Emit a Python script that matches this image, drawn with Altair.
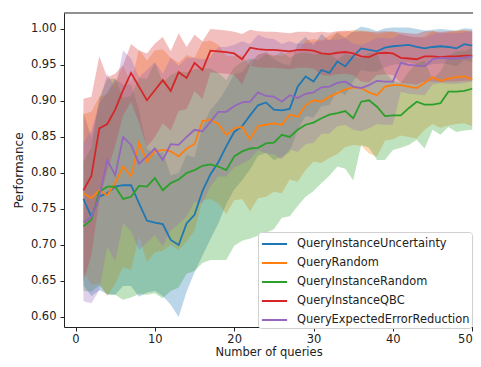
import altair as alt
import pandas as pd

queries = list(range(1, 51))

series_names = [
    "QueryInstanceUncertainty",
    "QueryRandom",
    "QueryInstanceRandom",
    "QueryInstanceQBC",
    "QueryExpectedErrorReduction",
]
series_colors = ["#1f77b4", "#ff7f0e", "#2ca02c", "#d62728", "#9467bd"]

uncertainty_mean = [0.764, 0.739, 0.767, 0.772, 0.781, 0.783, 0.783, 0.758, 0.734, 0.731,
                    0.729, 0.707, 0.700, 0.730, 0.742, 0.775, 0.798, 0.815, 0.837, 0.857,
                    0.865, 0.880, 0.894, 0.898, 0.888, 0.887, 0.889, 0.920, 0.934, 0.927,
                    0.943, 0.939, 0.955, 0.948, 0.962, 0.973, 0.971, 0.969, 0.974, 0.976,
                    0.977, 0.978, 0.975, 0.973, 0.975, 0.976, 0.975, 0.973, 0.979, 0.977]
uncertainty_std = [0.12, 0.11, 0.13, 0.14, 0.15, 0.14, 0.14, 0.13, 0.10, 0.095,
                   0.10, 0.09, 0.10, 0.095, 0.08, 0.09, 0.09, 0.085, 0.08, 0.08,
                   0.075, 0.075, 0.07, 0.07, 0.07, 0.065, 0.06, 0.06, 0.055, 0.05,
                   0.05, 0.045, 0.04, 0.04, 0.035, 0.03, 0.03, 0.028, 0.027, 0.026,
                   0.025, 0.024, 0.025, 0.025, 0.024, 0.024, 0.024, 0.025, 0.022, 0.023]

random_mean = [0.772, 0.765, 0.776, 0.769, 0.786, 0.809, 0.795, 0.842, 0.816, 0.830,
               0.832, 0.830, 0.823, 0.834, 0.840, 0.872, 0.874, 0.868, 0.853, 0.862,
               0.864, 0.847, 0.865, 0.867, 0.869, 0.867, 0.881, 0.878, 0.894, 0.901,
               0.899, 0.906, 0.911, 0.916, 0.919, 0.918, 0.912, 0.908, 0.920, 0.922,
               0.922, 0.920, 0.918, 0.925, 0.933, 0.928, 0.931, 0.933, 0.934, 0.930]
random_std = [0.11, 0.12, 0.13, 0.14, 0.14, 0.14, 0.13, 0.13, 0.14, 0.14,
              0.14, 0.13, 0.13, 0.13, 0.12, 0.11, 0.11, 0.11, 0.11, 0.10,
              0.10, 0.10, 0.10, 0.10, 0.095, 0.095, 0.09, 0.09, 0.09, 0.085,
              0.085, 0.085, 0.085, 0.08, 0.08, 0.08, 0.085, 0.085, 0.075, 0.075,
              0.07, 0.07, 0.07, 0.065, 0.065, 0.065, 0.065, 0.065, 0.065, 0.065]

inst_random_mean = [0.726, 0.735, 0.774, 0.781, 0.781, 0.764, 0.767, 0.782, 0.781, 0.793,
                    0.776, 0.786, 0.791, 0.800, 0.804, 0.810, 0.812, 0.809, 0.804, 0.823,
                    0.830, 0.834, 0.835, 0.841, 0.842, 0.853, 0.850, 0.860, 0.867, 0.870,
                    0.876, 0.881, 0.883, 0.886, 0.876, 0.899, 0.901, 0.892, 0.879, 0.880,
                    0.880, 0.890, 0.899, 0.895, 0.895, 0.897, 0.913, 0.913, 0.914, 0.917]
inst_random_std = [0.09, 0.10, 0.13, 0.15, 0.15, 0.14, 0.14, 0.15, 0.15, 0.16,
                   0.15, 0.15, 0.15, 0.14, 0.14, 0.135, 0.133, 0.13, 0.125, 0.124,
                   0.124, 0.125, 0.122, 0.124, 0.12, 0.115, 0.11, 0.106, 0.10, 0.095,
                   0.09, 0.085, 0.074, 0.08, 0.086, 0.06, 0.066, 0.074, 0.061, 0.048,
                   0.045, 0.051, 0.053, 0.061, 0.035, 0.044, 0.049, 0.056, 0.055, 0.057]

qbc_mean = [0.776, 0.796, 0.862, 0.868, 0.888, 0.915, 0.939, 0.920, 0.901, 0.915,
            0.929, 0.914, 0.940, 0.932, 0.953, 0.943, 0.970, 0.969, 0.968, 0.966,
            0.958, 0.974, 0.972, 0.971, 0.971, 0.970, 0.969, 0.971, 0.971, 0.970,
            0.966, 0.965, 0.967, 0.968, 0.966, 0.962, 0.961, 0.966, 0.967, 0.966,
            0.960, 0.959, 0.958, 0.962, 0.962, 0.961, 0.962, 0.962, 0.963, 0.963]
qbc_std = [0.127, 0.11, 0.10, 0.065, 0.05, 0.035, 0.04, 0.05, 0.065, 0.065,
           0.06, 0.055, 0.054, 0.043, 0.039, 0.04, 0.03, 0.03, 0.03, 0.03,
           0.035, 0.025, 0.025, 0.025, 0.025, 0.025, 0.025, 0.025, 0.025, 0.025,
           0.03, 0.03, 0.03, 0.03, 0.03, 0.035, 0.035, 0.03, 0.03, 0.03,
           0.035, 0.035, 0.035, 0.035, 0.035, 0.035, 0.035, 0.035, 0.035, 0.035]

eer_mean = [0.732, 0.739, 0.767, 0.818, 0.797, 0.850, 0.839, 0.813, 0.823, 0.834,
            0.818, 0.840, 0.839, 0.850, 0.860, 0.858, 0.871, 0.885, 0.885, 0.893,
            0.898, 0.899, 0.912, 0.907, 0.906, 0.899, 0.908, 0.904, 0.910, 0.912,
            0.919, 0.920, 0.925, 0.927, 0.920, 0.918, 0.922, 0.928, 0.927, 0.927,
            0.953, 0.950, 0.949, 0.948, 0.958, 0.960, 0.959, 0.959, 0.960, 0.962]
eer_std = [0.11, 0.12, 0.13, 0.12, 0.12, 0.12, 0.12, 0.12, 0.12, 0.12,
           0.12, 0.12, 0.11, 0.11, 0.10, 0.10, 0.09, 0.09, 0.09, 0.085,
           0.085, 0.08, 0.08, 0.08, 0.08, 0.08, 0.075, 0.075, 0.07, 0.07,
           0.065, 0.065, 0.06, 0.06, 0.06, 0.06, 0.06, 0.06, 0.06, 0.06,
           0.04, 0.04, 0.04, 0.04, 0.035, 0.035, 0.035, 0.035, 0.035, 0.035]

means = [uncertainty_mean, random_mean, inst_random_mean, qbc_mean, eer_mean]
stds = [uncertainty_std, random_std, inst_random_std, qbc_std, eer_std]

rows = []
for k, (name, m, s) in enumerate(zip(series_names, means, stds)):
    for n, mv, sv in zip(queries, m, s):
        rows.append({"n": n, "series": name, "order": k,
                     "mean": mv, "lo": mv - sv, "hi": mv + sv})
df = pd.DataFrame(rows)

font = "DejaVu Sans"
PLOT_W = 409
PLOT_H = 314
x_scale = alt.Scale(domain=[-1.45, 50.1], nice=False, zero=False)
x_axis = alt.Axis(values=[0, 10, 20, 30, 40, 50], title="Number of queries", format="d")
y_scale = alt.Scale(domain=[0.5861, 1.0222], nice=False, zero=False)
y_axis = alt.Axis(values=[0.60, 0.65, 0.70, 0.75, 0.80, 0.85, 0.90, 0.95, 1.00],
                  format=".2f", title="Performance")

base = alt.Chart(df)

# shaded std bands, one layer per method (drawn in plotting order)
area_layers = []
for name, col in zip(series_names, series_colors):
    area_layers.append(
        base.transform_filter(alt.datum.series == name)
        .mark_area(color=col, fillOpacity=0.3, clip=True)
        .encode(
            x=alt.X("n:Q", scale=x_scale, axis=x_axis),
            y=alt.Y("lo:Q", scale=y_scale, axis=y_axis),
            y2="hi:Q",
        )
    )

lines = base.mark_line(strokeWidth=1.8, clip=True).encode(
    x=alt.X("n:Q", scale=x_scale, axis=x_axis),
    y=alt.Y("mean:Q", scale=y_scale, axis=y_axis),
    stroke=alt.Stroke(
        "series:N",
        scale=alt.Scale(domain=series_names, range=series_colors),
        legend=alt.Legend(
            title=None, orient="none", legendX=194, legendY=219,
            symbolType="M-0.9,0L1.9,0", symbolSize=324, symbolStrokeWidth=2,
            rowPadding=3, labelFontSize=11.4, labelFont=font, labelColor="#222",
            labelOffset=17, fillColor="white", strokeColor="#d0d0d0",
            padding=2, cornerRadius=3, labelLimit=400,
        ),
    ),
    order=alt.Order("order:Q"),
)

# top spine (matplotlib style frame; right edge lies beyond the picture)
top_spine = alt.Chart(pd.DataFrame({"k": [0]})).mark_rule(
    color="#222", strokeWidth=1
).encode(y=alt.value(0), x=alt.value(0), x2=alt.value(PLOT_W + 2))

chart = alt.layer(*area_layers, lines, top_spine).properties(
    width=PLOT_W, height=PLOT_H,
    autosize=alt.AutoSizeParams(type="none"),
    padding={"left": 56, "top": 5, "right": 0, "bottom": 32},
).configure_view(
    stroke=None
).configure_axis(
    grid=False, domain=True, domainColor="#222", tickColor="#222", tickSize=4,
    tickWidth=1, labelFont=font, labelFontSize=11.5, labelColor="#222",
    titleFont=font, titleFontSize=12, titleFontWeight="normal", titleColor="#222",
).configure_axisX(
    labelPadding=2, titlePadding=2, titleFontSize=11.5,
).configure_axisY(
    labelPadding=4, titlePadding=5,
)

chart.save("out.html", embed_options={"renderer": "svg", "actions": False})
